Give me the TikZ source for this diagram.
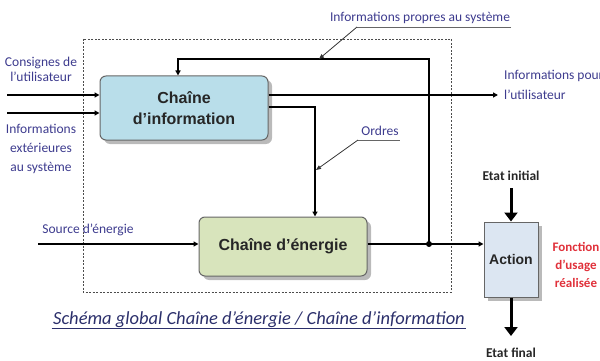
\documentclass[tikz,border=0pt]{standalone}
\usepackage{fontspec}
\setmainfont{Carlito}
\newfontfamily\arialf{Liberation Sans}
\usetikzlibrary{arrows.meta,shadows,calc}
\definecolor{lblue}{HTML}{3D3B8E}
\definecolor{infoblue}{HTML}{B9DEEA}
\definecolor{egreen}{HTML}{D8E4BC}
\definecolor{actblue}{HTML}{DCE6F2}
\definecolor{fred}{HTML}{E0303A}
\definecolor{capblue}{HTML}{2B2F6B}
\begin{document}
\begin{tikzpicture}[x=1pt,y=-1pt,
  mline/.style={line width=1.3pt, draw=black},
  arr/.style={mline, -{Triangle[length=5pt,width=5pt]}},
  lead/.style={line width=0.8pt, draw=black!80, -{Triangle[length=5pt,width=4pt]}},
  leadline/.style={line width=0.8pt, draw=black!60},
  lbl/.style={font=\fontsize{13.5}{15}\selectfont, text=lblue, inner sep=1pt},
  boxtxt/.style={font=\arialf\bfseries\fontsize{16}{21}\selectfont, text=black!85},
  blk/.style={rounded corners=6pt, draw=black!60, line width=1pt,
     drop shadow={shadow xshift=4pt, shadow yshift=-4pt, fill=black!60, opacity=0.45}},
  bigarr/.style={line width=3pt, draw=black, -{Triangle[length=9pt,width=13pt]}},
  frame/.style={draw=black!70, line width=0.9pt, dash pattern=on 2pt off 1.5pt},
  etat/.style={font=\bfseries\fontsize{13.5}{15}\selectfont, text=black!85}
]
\useasboundingbox (0,0) rectangle (600,361);
\clip (0,0) rectangle (600,361);

% dashed system frame
\draw[frame] (83,39) rectangle (451,292);

% blocks
\node[blk, fill=infoblue, minimum width=168pt, minimum height=64pt, align=center, boxtxt] (info) at (184,108) {Chaîne\\d’information};
\node[blk, fill=egreen, minimum width=168pt, minimum height=59pt, boxtxt] (energy) at (283,246.5) {Chaîne d’énergie};
\node[blk, rounded corners=0pt, fill=actblue, minimum width=54pt, minimum height=75pt, font=\arialf\bfseries\fontsize{14}{16}\selectfont, text=black!85] (action) at (511,259.5) {Action};

% labels
\node[lbl, align=center, font=\fontsize{13.5}{15}\selectfont] (cons) at (41,69) {Consignes de\\l’utilisateur};
\node[lbl, align=center, font=\fontsize{13.5}{19}\selectfont] (iext) at (41,149) {Informations\\extérieures\\au système};
\node[lbl] (srcl) at (88,230) {Source d’énergie};
\node[lbl, align=left, anchor=west, font=\fontsize{13.5}{20}\selectfont] (iu) at (503,85) {Informations pour\\l’utilisateur};
\node[lbl] (ipas) at (420,18) {Informations propres au système};
\node[lbl] (ord) at (380,131) {Ordres};
\node[align=center, text=fred, font=\bfseries\fontsize{13}{18}\selectfont] (fct) at (576,265) {Fonction\\d’usage\\réalisée};
\node[etat] (ei) at (511,176) {Etat initial};
\node[etat] (ef) at (511,353) {Etat final};
\node[font=\itshape\fontsize{18.5}{20}\selectfont, text=capblue] (cap) at (259,320) {Schéma global Chaîne d’énergie / Chaîne d’information};
\draw[capblue, line width=0.9pt] ($(cap.base west)+(2,3.5)$) -- ($(cap.base east)+(-2,3.5)$);

% coordinates
\coordinate (c1) at (7,95);
\coordinate (c2) at (7,113);
\coordinate (ui) at (498,95);
\coordinate (ordk) at (315,107);
\coordinate (src) at (38,244);
\coordinate (junc) at (429,244);
\coordinate (fbtop) at (429,59);
\coordinate (fbl) at (178,59);
\coordinate (ipa1) at (357,27);
\coordinate (ipatip) at (319,59);
\coordinate (ord1) at (358,140);
\coordinate (ordtip) at (316,170);
\coordinate (eiend) at (511,188);
\coordinate (efend) at (511,336);

% connectors
\draw[arr] (c1) -- (c1 -| info.west);
\draw[arr] (c2) -- (c2 -| info.west);
\draw[arr] (ui -| info.east) -- (ui);
\draw[arr] (ordk -| info.east) -| (ordk |- energy.north);
\draw[arr] (src) -- (src -| energy.west);
\draw[arr] (src -| energy.east) -- (src -| action.west);
\draw[arr] (junc) -- (fbtop) -- (fbl) -- (fbl |- info.north);
\fill (junc) circle (3pt);

% leaders
\draw[leadline] (ipas.south east |- ipa1) -- (ipa1);
\draw[lead] (ipa1) -- (ipatip);
\draw[leadline] (ord.south east |- ord1) -- (ord1);
\draw[lead] (ord1) -- (ordtip);

% etat arrows
\draw[bigarr] (eiend) -- (action.north);
\draw[bigarr] (action.south) -- (efend);
\end{tikzpicture}
\end{document}
